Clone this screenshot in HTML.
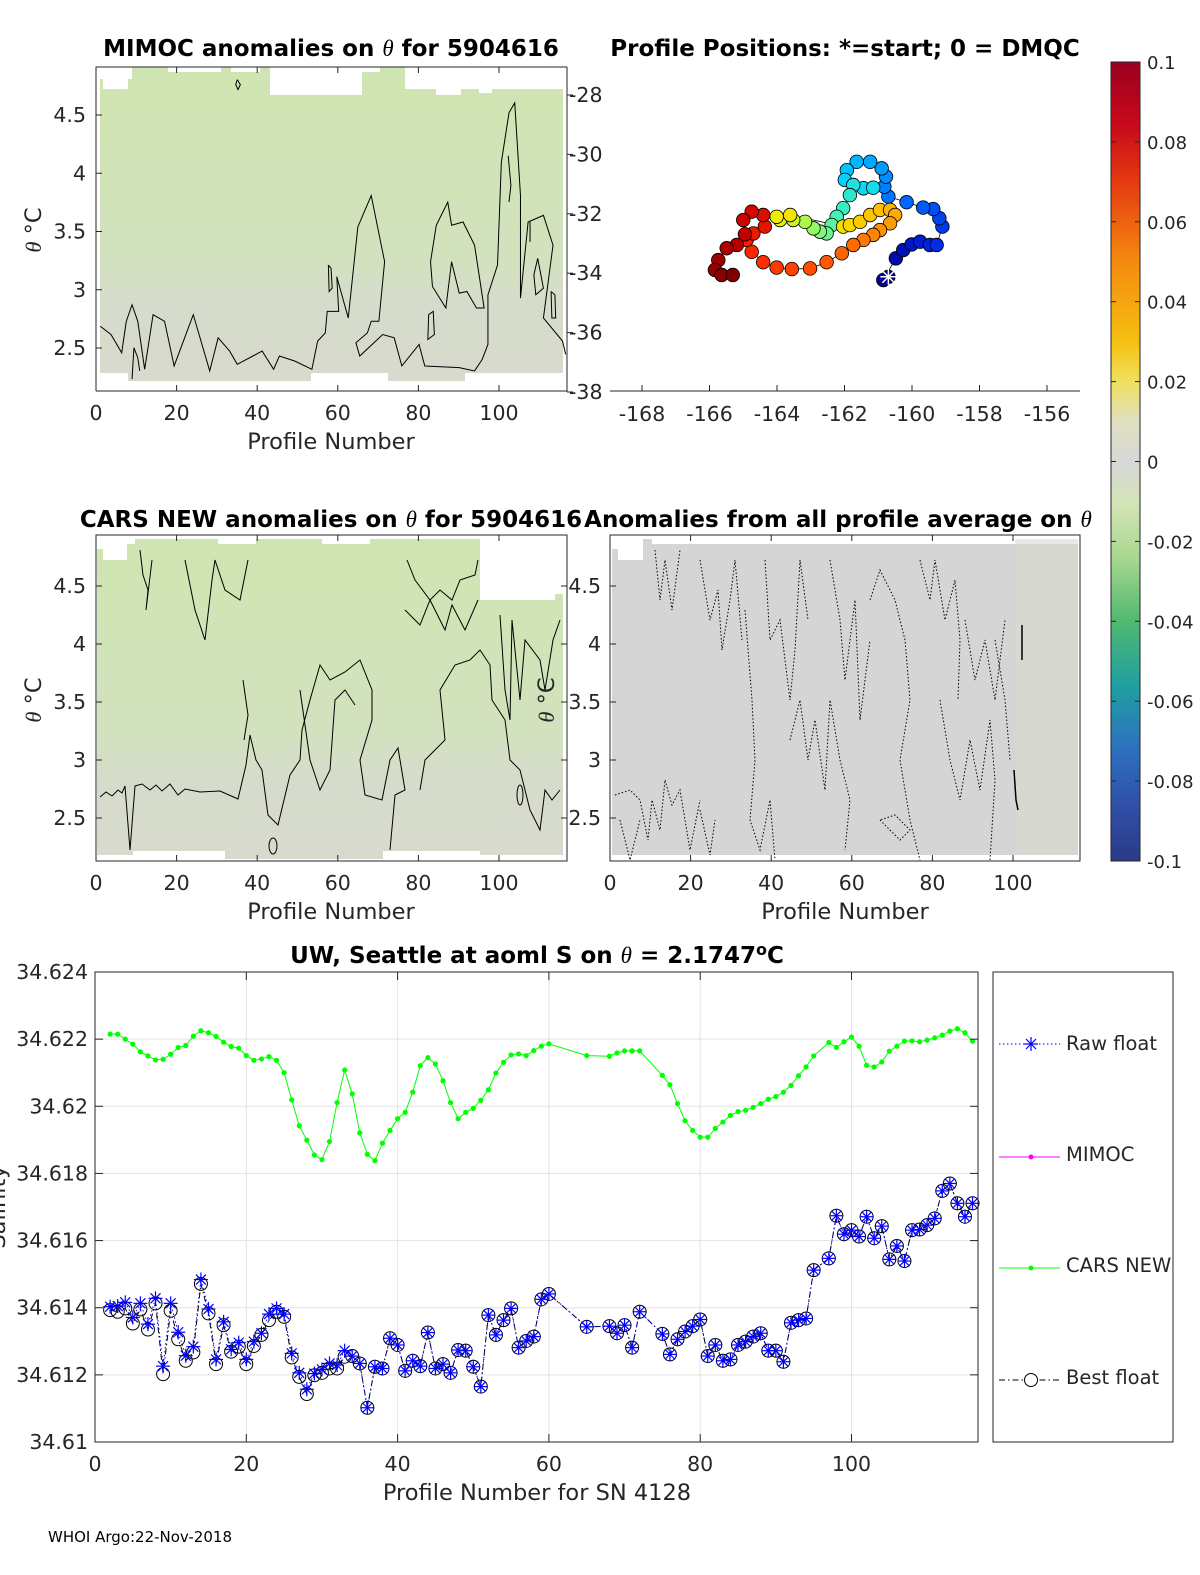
<!DOCTYPE html>
<html><head><meta charset="utf-8"><style>
html,body{margin:0;padding:0;background:#fff;}
svg{display:block;font-family:"DejaVu Sans","Liberation Sans",sans-serif;}
.tk{font-size:20.5px;fill:#262626;}
.ttl{font-size:23px;font-weight:bold;fill:#000;}
.lbl{font-size:22.5px;fill:#262626;}
</style></head><body>
<svg id="fig" width="1200" height="1575" viewBox="0 0 1200 1575" xmlns="http://www.w3.org/2000/svg">
<defs>
<linearGradient id="fieldG" x1="0" y1="0" x2="0" y2="1">
<stop offset="0" stop-color="#cfe5b1"/><stop offset="0.6" stop-color="#d2e2bd"/><stop offset="0.75" stop-color="#d6dccb"/><stop offset="1" stop-color="#d7dacd"/>
</linearGradient>
<linearGradient id="fieldH" x1="0" y1="0" x2="1" y2="0">
<stop offset="0" stop-color="#cfe6b0" stop-opacity="0.6"/><stop offset="0.3" stop-color="#c9e6a8" stop-opacity="0.7"/><stop offset="0.75" stop-color="#d6dbcb" stop-opacity="0.5"/><stop offset="1" stop-color="#d1e0bd" stop-opacity="0.6"/>
</linearGradient>
<linearGradient id="cbar" x1="0" y1="0" x2="0" y2="1">
<stop offset="0" stop-color="#9a0020"/><stop offset="0.08" stop-color="#c80a1a"/><stop offset="0.15" stop-color="#e43a10"/><stop offset="0.25" stop-color="#f58a10"/><stop offset="0.35" stop-color="#f5c010"/><stop offset="0.4" stop-color="#efe060"/><stop offset="0.45" stop-color="#e0e0c0"/><stop offset="0.5" stop-color="#d7d7d7"/><stop offset="0.55" stop-color="#d4e4b8"/><stop offset="0.62" stop-color="#a8d890"/><stop offset="0.7" stop-color="#50b870"/><stop offset="0.78" stop-color="#20a0a0"/><stop offset="0.86" stop-color="#2d70c0"/><stop offset="0.93" stop-color="#3050a8"/><stop offset="1" stop-color="#2a3a88"/>
</linearGradient>
</defs>

<!-- ===== Panel 1: MIMOC ===== -->
<g>
<text class="ttl" x="331" y="56" text-anchor="middle">MIMOC anomalies on <tspan font-style="italic" font-family="Liberation Serif" font-weight="normal">θ</tspan>  for 5904616</text>
<path d="M100,79 L103,79 L103,89 L128,89 L128,79 L132,79 L132,67 L168,67 L168,72 L221,72 L221,67 L231,67 L231,72 L260,72 L260,67 L270,67 L270,95 L362,95 L362,72 L380,72 L380,67 L405,67 L405,89 L436,89 L436,95 L461,95 L461,89 L479,89 L479,93 L492,93 L492,89 L563,89 L563,373 L465,373 L465,381 L388,381 L388,373 L311,373 L311,381 L128,381 L128,373 L100,373 Z" fill="url(#fieldG)"/>
<g transform="translate(0,30) scale(0.3827,0.331)" fill="none" stroke="#000">
<polyline vector-effect="non-scaling-stroke" stroke-width="1" points="262,895 290,920 318,975 330,880 345,830 360,880 378,1025 400,860 430,880 455,1015 505,860 548,1030 570,930 600,970 620,1010 685,970 715,1025 730,985 770,1000 815,1025 830,940 850,915 855,850 885,850 880,745 910,870 935,595 970,500 1005,700 990,880 970,880 960,915 930,945 940,985 1000,920 1030,930 1050,1015 1095,950 1110,1015 1200,1020 1240,1030 1260,995 1275,950 1275,800 1300,710 1310,400 1330,250 1345,220 1360,500 1360,810 1380,580 1420,560 1445,650 1420,870 1470,940 1478,980"/>
<polyline vector-effect="non-scaling-stroke" stroke-width="1" points="1125,700 1140,590 1170,520 1180,590 1210,580 1240,650 1265,840 1245,840 1220,790 1200,795 1180,700 1165,840 1130,775 1125,700"/>
<polyline vector-effect="non-scaling-stroke" stroke-width="1" points="345,1055 350,960 360,990 365,1030"/>
<polyline vector-effect="non-scaling-stroke" stroke-width="1" points="858,710 865,720 868,780 860,790 858,710"/>
<polyline vector-effect="non-scaling-stroke" stroke-width="1" points="1328,380 1335,470 1330,520"/>
<polyline vector-effect="non-scaling-stroke" stroke-width="1" points="1405,690 1420,780 1400,800 1395,740 1405,690"/>
<polyline vector-effect="non-scaling-stroke" stroke-width="1" points="1120,860 1132,850 1135,920 1118,935 1120,860"/>
<polyline vector-effect="non-scaling-stroke" stroke-width="1" points="620,150 628,165 622,180 616,165 620,150"/>
<polyline vector-effect="non-scaling-stroke" stroke-width="1" points="1385,580 1385,640"/>
<polyline vector-effect="non-scaling-stroke" stroke-width="1" points="1440,790 1450,800 1452,870 1442,870 1440,790"/>
</g>
<path d="M96,391 L96,67 L567,67" fill="none" stroke="#262626" stroke-width="1"/>
<line x1="96" y1="391" x2="567" y2="391" stroke="#262626"/>
<g id="p1ticks"></g>
<text class="lbl" x="331" y="449" text-anchor="middle">Profile Number</text>
<text class="lbl" transform="translate(41,230) rotate(-90)" text-anchor="middle"><tspan font-style="italic" font-family="Liberation Serif">θ</tspan> °C</text>
</g>

<!-- ===== Panel 2: map ===== -->
<g>
<text class="ttl" x="845" y="56" text-anchor="middle">Profile Positions: *=start; 0 = DMQC</text>
<line x1="567" y1="67" x2="567" y2="392" stroke="#262626"/>
<line x1="610" y1="391" x2="1080" y2="391" stroke="#262626"/>
<g id="mapticks"></g>
<g id="track"></g>
</g>

<!-- colorbar -->
<g>
<rect x="1111" y="62" width="29" height="799" fill="url(#cbar)" stroke="#262626" stroke-width="1"/>
<g id="cbticks"></g>
</g>

<!-- ===== Panel 3: CARS ===== -->
<g>
<text class="ttl" x="331" y="527" text-anchor="middle">CARS NEW anomalies on <tspan font-style="italic" font-family="Liberation Serif" font-weight="normal">θ</tspan> for 5904616</text>
<path d="M97,549 L103,549 L103,560 L127,560 L127,544 L135,544 L135,539 L218,539 L218,544 L256,544 L256,539 L322,539 L322,544 L370,544 L370,539 L480,539 L480,600 L555,600 L555,594 L563,594 L563,855 L480,855 L480,851 L383,851 L383,859 L225,859 L225,851 L133,851 L133,855 L97,855 Z" fill="url(#fieldG)"/>
<g fill="none" stroke="#000" stroke-width="1">
<polyline points="100,797 106,792 112,796 118,790 122,793 125,786 130,850 135,786 142,784 150,790 156,785 162,791 170,784 178,795 185,789 200,792 220,791 238,799 246,765 250,735 256,760 262,770 268,815 278,825 290,775 300,760 302,730 310,700 320,665 330,680 345,672 360,660 372,690 372,720 360,760 365,795 382,800 390,760 398,748 405,790 395,795 390,850"/>
<polyline points="420,790 425,760 435,750 445,740 440,690 455,665 470,660 480,650 490,665 492,700 505,720 510,760 520,770 530,810 540,830 545,790 552,800 560,790"/>
<polyline points="140,550 143,575 148,590 146,610 152,560"/>
<polyline points="185,560 195,610 205,640 212,580 215,560 225,590 240,600 248,560"/>
<polyline points="407,560 415,580 430,600 440,590 452,600 460,580 475,575 478,560"/>
<polyline points="405,610 420,625 430,600 445,630 452,605 465,630 478,600"/>
<polyline points="300,690 310,760 320,790 330,770 335,700 345,690 355,705"/>
<polyline points="500,615 505,690 510,720 512,620 520,700 525,640 540,660 545,690 553,640 560,620"/>
<ellipse cx="273" cy="846" rx="4" ry="8"/>
<ellipse cx="520" cy="795" rx="3" ry="10"/>
<polyline points="243,680 248,715 244,740"/>
</g>
<path d="M96,861 L96,535 L567,535 L567,861 Z" fill="none" stroke="#262626"/>
<g id="p3ticks"></g>
<text class="lbl" x="331" y="919" text-anchor="middle">Profile Number</text>
<text class="lbl" transform="translate(41,700) rotate(-90)" text-anchor="middle"><tspan font-style="italic" font-family="Liberation Serif">θ</tspan> °C</text>
</g>

<!-- ===== Panel 4: all-profile anomalies ===== -->
<g>
<text class="ttl" x="838" y="527" text-anchor="middle">Anomalies from all profile average on <tspan font-style="italic" font-family="Liberation Serif" font-weight="normal">θ</tspan></text>
<path d="M612,549 L618,549 L618,560 L643,560 L643,539 L652,539 L652,544 L1078,544 L1078,855 L612,855 Z" fill="#d5d5d5"/>
<rect x="1015" y="539" width="63" height="316" fill="#d8dbce" opacity="0.6"/>
<g fill="none" stroke="#000" stroke-width="1" stroke-dasharray="1.5,2">
<polyline points="615,795 630,790 640,800 648,840 652,800 660,830 665,780 672,805 680,790 690,850 700,800"/>
<polyline points="655,550 660,600 665,560 672,610 680,550"/>
<polyline points="700,560 710,620 718,590 722,650 730,600 735,560 742,640"/>
<polyline points="745,610 752,700 755,760 750,820 760,850 770,800 775,860"/>
<polyline points="765,560 770,640 780,620 790,700 795,650 800,560 808,620"/>
<polyline points="790,740 800,700 808,760 815,720 825,790 830,700 840,760 850,800 845,850"/>
<polyline points="830,560 840,620 845,680 855,600 860,720 870,640"/>
<polyline points="870,600 880,570 895,600 905,640 910,700 900,760 910,820 920,860"/>
<polyline points="920,560 930,600 935,560 945,620 955,580 960,640 958,700"/>
<polyline points="940,700 950,760 960,800 970,740 980,790 990,720 995,780 990,860"/>
<polyline points="880,820 890,830 900,840 910,830 895,815 880,820"/>
<polyline points="965,620 975,680 985,640 995,700 1000,660 1005,620"/>
<polyline points="995,640 1005,700 1010,760"/>
<polyline points="620,820 630,860 640,820"/>
<polyline points="700,810 710,855 715,820"/>
</g>
<polyline points="1022,625 1022,660" stroke="#000" stroke-width="1.5" fill="none"/>
<polyline points="1014,770 1016,800 1018,810" stroke="#000" stroke-width="1.5" fill="none"/>
<path d="M610,861 L610,535 L1080,535 L1080,861 Z" fill="none" stroke="#262626"/>
<g id="p4ticks"></g>
<text class="lbl" x="845" y="919" text-anchor="middle">Profile Number</text>
<text class="lbl" transform="translate(554,700) rotate(-90)" text-anchor="middle"><tspan font-style="italic" font-family="Liberation Serif">θ</tspan> °C</text>
</g>

<!-- ===== Bottom salinity chart ===== -->
<g>
<text class="ttl" x="537" y="963" text-anchor="middle">UW, Seattle at aoml S on <tspan font-style="italic" font-family="Liberation Serif" font-weight="normal">θ</tspan> = 2.1747<tspan dy="-8" font-size="16">o</tspan><tspan dy="8">C</tspan></text>
<rect x="95" y="972" width="883" height="470" fill="#fff" stroke="none"/>
<g id="grid"></g>
<g id="series"></g>
<rect x="95" y="972" width="883" height="470" fill="none" stroke="#262626"/>
<g id="sticks"></g>
<text class="lbl" x="537" y="1500" text-anchor="middle">Profile Number for SN 4128</text>
<text class="lbl" transform="translate(5,1207) rotate(-90)" text-anchor="middle">Salinity</text>
</g>

<!-- legend -->
<g>
<rect x="993" y="972" width="180" height="470" fill="#fff" stroke="#262626"/>
<g>
<line x1="999" y1="1044" x2="1060" y2="1044" stroke="#0000ff" stroke-dasharray="1.5,2.5"/>
<g stroke="#0000ff" stroke-width="1.2"><line x1="1024" y1="1044" x2="1038" y2="1044"/><line x1="1031" y1="1037" x2="1031" y2="1051"/><line x1="1026" y1="1039" x2="1036" y2="1049"/><line x1="1026" y1="1049" x2="1036" y2="1039"/></g>
<text class="lbl" x="1066" y="1050" style="font-size:19.5px">Raw float</text></g>
<g>
<line x1="999" y1="1157" x2="1060" y2="1157" stroke="#ff00ff"/><circle cx="1031" cy="1157" r="2.5" fill="#ff00ff"/>
<text class="lbl" x="1066" y="1161" style="font-size:19.5px">MIMOC</text></g>
<g>
<line x1="999" y1="1268" x2="1060" y2="1268" stroke="#00ff00"/><circle cx="1031" cy="1268" r="2.5" fill="#00ff00"/>
<text class="lbl" x="1066" y="1272" style="font-size:19.5px">CARS NEW</text></g>
<g>
<line x1="999" y1="1380" x2="1060" y2="1380" stroke="#000" stroke-dasharray="6,3,1.5,3"/><circle cx="1031" cy="1380" r="6.5" fill="#fff" stroke="#000"/>
<text class="lbl" x="1066" y="1384" style="font-size:19.5px">Best float</text></g>
</g>

<text x="48" y="1542" font-size="15" fill="#000">WHOI Argo:22-Nov-2018</text>
</svg>

<script>
// ---------- data ----------
const carsProfiles=[2,3,4,5,6,7,8,9,10,11,12,13,14,15,16,17,18,19,20,21,22,23,24,25,26,27,28,29,30,31,32,33,34,35,36,37,38,39,40,41,42,43,44,45,46,47,48,49,50,51,52,53,54,55,56,57,58,59,60,65,68,69,70,71,72,75,76,77,78,79,80,81,82,83,84,85,86,87,88,89,90,91,92,93,94,95,97,98,99,100,101,102,103,104,105,106,107,108,109,110,111,112,113,114,115,116];
const carsValues=[34.62215,34.62215,34.6220,34.62185,34.62162,34.6215,34.62138,34.6214,34.62155,34.62175,34.62181,34.62209,34.62225,34.62219,34.62208,34.62191,34.62178,34.62173,34.62151,34.62137,34.62141,34.62148,34.62137,34.62100,34.62019,34.61942,34.61899,34.61855,34.61841,34.61895,34.62011,34.62108,34.62037,34.61921,34.61857,34.61838,34.6189,34.61928,34.61963,34.61982,34.62042,34.62121,34.62145,34.62126,34.62076,34.62011,34.61963,34.61982,34.61994,34.62018,34.62049,34.62099,34.62131,34.62153,34.62156,34.62151,34.62166,34.62179,34.62186,34.62151,34.62149,34.62159,34.62165,34.62165,34.62165,34.62092,34.62064,34.62008,34.61957,34.61928,34.61908,34.61908,34.61934,34.61953,34.61973,34.61984,34.61988,34.61997,34.62008,34.62021,34.62029,34.62042,34.62062,34.62091,34.62117,34.6215,34.6219,34.62175,34.62192,34.62206,34.62179,34.62122,34.62117,34.62132,34.62164,34.62179,34.62194,34.62195,34.62192,34.62197,34.62204,34.62212,34.62224,34.62231,34.62219,34.62194];
const floatProfiles=carsProfiles;
const bestFloat=[34.61393,34.61388,34.61398,34.61353,34.61395,34.61335,34.61413,34.61202,34.61391,34.61306,34.61242,34.61267,34.61471,34.61383,34.61232,34.61348,34.61269,34.61284,34.61232,34.61286,34.61319,34.61363,34.61388,34.61373,34.61252,34.61194,34.61143,34.61199,34.61206,34.61219,34.61219,34.61254,34.61256,34.61234,34.61102,34.61224,34.61219,34.61309,34.61289,34.61212,34.61242,34.61226,34.61326,34.61219,34.61232,34.61206,34.61274,34.61272,34.61224,34.61165,34.61378,34.61319,34.61363,34.61398,34.61281,34.61301,34.61314,34.61425,34.61441,34.61343,34.61345,34.61324,34.61348,34.61281,34.61388,34.61322,34.61261,34.61306,34.61329,34.61345,34.61365,34.61256,34.61289,34.61242,34.61246,34.61289,34.61299,34.61314,34.61324,34.61272,34.61272,34.61239,34.61355,34.61363,34.61368,34.61512,34.61547,34.61674,34.61619,34.61631,34.61612,34.61671,34.61607,34.61643,34.61544,34.61584,34.61539,34.61631,34.61633,34.61646,34.61666,34.61748,34.61770,34.61711,34.61671,34.61711];
const rawFloatEarly=[34.61403,34.61405,34.61416,34.61371,34.61413,34.61351,34.61428,34.61226,34.61413,34.61327,34.61257,34.61284,34.61484,34.61396,34.61246,34.61358,34.61276,34.61296,34.61246,34.61299,34.61324,34.61381,34.61398,34.61381,34.61264,34.61206,34.61157,34.61204,34.61216,34.61234,34.61229,34.61272];
const rawFloat=rawFloatEarly.concat(bestFloat.slice(rawFloatEarly.length));
const salTicks=[34.61,34.612,34.614,34.616,34.618,34.62,34.622,34.624];
const salTickLabels=["34.61","34.612","34.614","34.616","34.618","34.62","34.622","34.624"];
const profTicks=[0,20,40,60,80,100];

const trackLon=[-160.70,-160.85,-160.48,-160.26,-160.01,-159.76,-159.47,-159.27,-159.10,-159.19,-159.37,-159.67,-160.16,-160.70,-160.82,-160.77,-160.90,-161.24,-161.64,-161.93,-161.99,-161.44,-161.15,-161.74,-161.84,-162.04,-162.23,-162.38,-162.53,-162.73,-162.92,-163.17,-163.52,-163.91,-164.01,-163.61,-162.04,-161.84,-161.54,-161.24,-160.95,-160.65,-160.50,-160.65,-160.95,-161.15,-161.44,-161.74,-162.08,-162.53,-163.02,-163.56,-164.01,-164.41,-164.75,-164.90,-164.70,-164.36,-164.41,-164.75,-165.00,-164.95,-165.19,-165.49,-165.74,-165.84,-165.64,-165.31];
const trackLat=[-34.12,-34.23,-33.50,-33.22,-33.03,-32.94,-33.05,-33.05,-32.43,-32.15,-31.84,-31.79,-31.61,-31.42,-31.09,-30.75,-30.47,-30.25,-30.25,-30.53,-30.86,-31.14,-31.12,-31.03,-31.37,-31.81,-32.10,-32.38,-32.66,-32.60,-32.49,-32.27,-32.21,-32.21,-32.10,-32.04,-32.43,-32.38,-32.27,-32.04,-31.87,-31.87,-32.04,-32.32,-32.55,-32.71,-32.88,-33.05,-33.33,-33.63,-33.84,-33.86,-33.81,-33.63,-33.28,-32.88,-32.66,-32.43,-32.04,-31.93,-32.21,-32.69,-33.05,-33.16,-33.56,-33.89,-34.06,-34.06];
const lonTicks=[-168,-166,-164,-162,-160,-158,-156];
const latTicks=[-28,-30,-32,-34,-36,-38];
const cbTicks=[0.1,0.08,0.06,0.04,0.02,0,-0.02,-0.04,-0.06,-0.08,-0.1];
const cbLabels=["0.1","0.08","0.06","0.04","0.02","0","-0.02","-0.04","-0.06","-0.08","-0.1"];
const thetaTicks=[2.5,3,3.5,4,4.5];
const thetaLabels=["2.5","3","3.5","4","4.5"];

// ---------- helpers ----------
const NS="http://www.w3.org/2000/svg";
function mk(tag,attrs,parent){const e=document.createElementNS(NS,tag);for(const k in attrs)e.setAttribute(k,attrs[k]);parent.appendChild(e);return e;}
function txt(parent,x,y,s,anchor,cls){const t=mk('text',{x:x,y:y,'text-anchor':anchor,class:cls||'tk'},parent);t.textContent=s;return t;}

// salinity axes
const sx=p=>95+p*7.565;
const sy=v=>1442-(v-34.61)/0.014*470;
const grid=document.getElementById('grid'), st=document.getElementById('sticks'), series=document.getElementById('series');
profTicks.forEach(p=>{
  const g=mk('line',{x1:sx(p),x2:sx(p),y1:972,y2:1442,stroke:'#e3e3e3'},grid);
  
  
  mk('line',{x1:sx(p),x2:sx(p),y1:1442,y2:1434,stroke:'#262626'},st);
  mk('line',{x1:sx(p),x2:sx(p),y1:972,y2:980,stroke:'#262626'},st);
  const t=txt(st,sx(p),1471,String(p),'middle');
  
  
});
salTicks.forEach((v,i)=>{
  const g=mk('line',{x1:95,x2:978,y1:sy(v),y2:sy(v),stroke:'#e3e3e3'},grid);
  
  
  mk('line',{x1:95,x2:103,y1:sy(v),y2:sy(v),stroke:'#262626'},st);
  mk('line',{x1:970,x2:978,y1:sy(v),y2:sy(v),stroke:'#262626'},st);
  const t=txt(st,88,sy(v)+7,salTickLabels[i],'end');
  
  
});
// CARS series
const carsLine=mk('polyline',{points:carsProfiles.map((p,i)=>sx(p)+','+sy(carsValues[i])).join(' '),fill:'none',stroke:'#00ff00','stroke-width':1},series);


carsProfiles.forEach((p,i)=>{
  const c=mk('circle',{cx:sx(p),cy:sy(carsValues[i]),r:2.6,fill:'#00ff00'},series);
  
  
});
const bestLine=mk('polyline',{points:floatProfiles.map((p,i)=>sx(p)+','+sy(bestFloat[i])).join(' '),fill:'none',stroke:'#000','stroke-width':1,'stroke-dasharray':'6,3,1.5,3'},series);


const rawLine=mk('polyline',{points:floatProfiles.map((p,i)=>sx(p)+','+sy(rawFloat[i])).join(' '),fill:'none',stroke:'#0000ff','stroke-width':1,'stroke-dasharray':'1.5,2.5'},series);


floatProfiles.forEach((p,i)=>{
  const c=mk('circle',{cx:sx(p),cy:sy(bestFloat[i]),r:6.5,fill:'none',stroke:'#000','stroke-width':1},series);
  
  
});
floatProfiles.forEach((p,i)=>{
  const x=sx(p),y=sy(rawFloat[i]);
  const g=mk('g',{stroke:'#0000ff','stroke-width':1.2},series);
  
  
  mk('line',{x1:x-7,x2:x+7,y1:y,y2:y},g);
  mk('line',{x1:x,x2:x,y1:y-7,y2:y+7},g);
  mk('line',{x1:x-5,x2:x+5,y1:y-5,y2:y+5},g);
  mk('line',{x1:x-5,x2:x+5,y1:y+5,y2:y-5},g);
});

// contour panels ticks
function panelTicks(id,x0,yTop,yBot,ty,labelX,anchor,leftX){
  const g=document.getElementById(id);
  const px=p=>x0+p*4.03;
  profTicks.forEach(p=>{
    mk('line',{x1:px(p),x2:px(p),y1:yBot,y2:yBot-6,stroke:'#262626'},g);
    mk('line',{x1:px(p),x2:px(p),y1:yTop,y2:yTop+6,stroke:'#262626'},g);
    const t=txt(g,px(p),yBot+29,String(p),'middle');
    
    
  });
  thetaTicks.forEach((v,i)=>{
    const y=ty(v);
    mk('line',{x1:leftX,x2:leftX+6,y1:y,y2:y,stroke:'#262626'},g);
    const t=txt(g,labelX,y+7,thetaLabels[i],anchor);
    
    
  });
}
panelTicks('p1ticks',96,67,391,v=>348-(v-2.5)*116.5,86,'end',96);
panelTicks('p3ticks',96,535,861,v=>818-(v-2.5)*116,86,'end',96);
panelTicks('p4ticks',610,535,861,v=>818-(v-2.5)*116,601,'end',610);
thetaTicks.forEach(v=>{const y=818-(v-2.5)*116;mk('line',{x1:561,x2:567,y1:y,y2:y,stroke:'#262626'},document.getElementById('p3ticks'));});

// map
const mx=lon=>642+(lon+168)*33.75;
const my=lat=>95+(-28-lat)*29.7;
const mt=document.getElementById('mapticks');
lonTicks.forEach(l=>{
  mk('line',{x1:mx(l),x2:mx(l),y1:391,y2:385,stroke:'#262626'},mt);
  const t=txt(mt,mx(l),421,String(l),'middle');
  
  
});
latTicks.forEach(l=>{
  mk('line',{x1:567,x2:573,y1:my(l),y2:my(l),stroke:'#262626'},mt);
  const t=txt(mt,569,my(l)+7,String(l),'start');
  
  
});
function jet(t){
  const stops=[[0,[0,0,140]],[0.1,[0,40,230]],[0.2,[0,120,255]],[0.3,[0,210,255]],[0.38,[60,240,190]],[0.45,[150,250,100]],[0.5,[240,240,0]],[0.6,[255,190,0]],[0.7,[255,110,0]],[0.8,[255,40,0]],[0.9,[200,0,0]],[1,[128,0,0]]];
  for(let i=1;i<stops.length;i++){if(t<=stops[i][0]){const a=stops[i-1],b=stops[i];const f=(t-a[0])/(b[0]-a[0]);return 'rgb('+a[1].map((c,k)=>Math.round(c+(b[1][k]-c)*f)).join(',')+')';}}
  return 'rgb(128,0,0)';
}
const tr=document.getElementById('track');
const tl=mk('polyline',{points:trackLon.map((l,i)=>mx(l)+','+my(trackLat[i])).join(' '),fill:'none',stroke:'#000','stroke-width':0.8},tr);


trackLon.forEach((l,i)=>{
  const c=mk('circle',{cx:mx(l),cy:my(trackLat[i]),r:6.8,fill:jet(i/(trackLon.length-1)),stroke:'#000','stroke-width':0.8},tr);
  
  
});
{
  const x=mx(trackLon[0]),y=my(trackLat[0]);
  const g=mk('g',{stroke:'#fff','stroke-width':1.5},tr);
  
  
  mk('line',{x1:x-8,x2:x+8,y1:y,y2:y},g);mk('line',{x1:x,x2:x,y1:y-8,y2:y+8},g);
  mk('line',{x1:x-6,x2:x+6,y1:y-6,y2:y+6},g);mk('line',{x1:x-6,x2:x+6,y1:y+6,y2:y-6},g);
}
// colorbar ticks
const cb=document.getElementById('cbticks');
const cy=v=>62+(0.1-v)/0.2*799;
cbTicks.forEach((v,i)=>{
  mk('line',{x1:1111,x2:1116,y1:cy(v),y2:cy(v),stroke:'#262626'},cb);
  mk('line',{x1:1135,x2:1140,y1:cy(v),y2:cy(v),stroke:'#262626'},cb);
  const t=txt(cb,1147,cy(v)+7,cbLabels[i],'start');
  t.setAttribute('style','font-size:18px');
  
  
});
</script>
</body></html>
